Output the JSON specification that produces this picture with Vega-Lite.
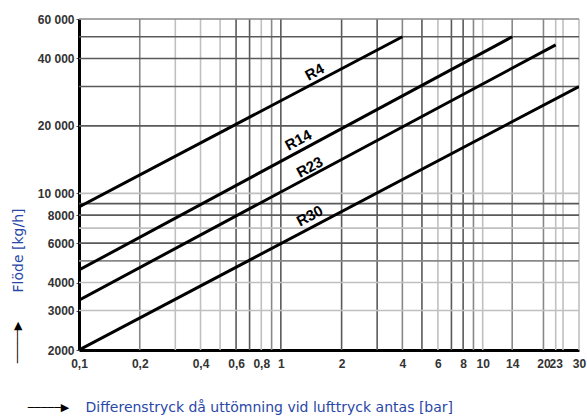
{
  "$schema": "https://vega.github.io/schema/vega-lite/v6.json",
  "width": 500,
  "height": 331,
  "autosize": "none",
  "padding": {"left": 79, "top": 19, "right": 8, "bottom": 67},
  "background": "white",
  "config": {"view": {"stroke": null}},
  "datasets": {
    "gridx": [
      {"v": 0.2, "level": "medium"}, {"v": 0.3, "level": "light"}, {"v": 0.4, "level": "light"},
      {"v": 0.5, "level": "light"}, {"v": 0.6, "level": "dark"}, {"v": 0.7, "level": "dark"},
      {"v": 0.8, "level": "light"}, {"v": 0.9, "level": "medium"}, {"v": 1, "level": "dark"},
      {"v": 2, "level": "dark"}, {"v": 3, "level": "dark"}, {"v": 4, "level": "medium"},
      {"v": 5, "level": "dark"}, {"v": 6, "level": "light"}, {"v": 7, "level": "dark"},
      {"v": 8, "level": "dark"}, {"v": 9, "level": "medium"}, {"v": 10, "level": "light"},
      {"v": 14, "level": "medium"}, {"v": 20, "level": "medium"}, {"v": 23, "level": "light"},
      {"v": 25, "level": "light"}, {"v": 30, "level": "light"}
    ],
    "gridy": [
      {"v": 3000, "level": "light"}, {"v": 4000, "level": "light"}, {"v": 5000, "level": "medium"},
      {"v": 6000, "level": "dark"}, {"v": 7000, "level": "light"}, {"v": 8000, "level": "dark"},
      {"v": 9000, "level": "dark"}, {"v": 10000, "level": "light"}, {"v": 20000, "level": "dark"},
      {"v": 30000, "level": "dark"}, {"v": 40000, "level": "dark"}, {"v": 50000, "level": "dark"},
      {"v": 60000, "level": "medium"}
    ],
    "lines": [
      {"serie": "R4", "dp": 0.1, "flow": 8700}, {"serie": "R4", "dp": 4, "flow": 50000},
      {"serie": "R14", "dp": 0.1, "flow": 4550}, {"serie": "R14", "dp": 14, "flow": 50000},
      {"serie": "R23", "dp": 0.1, "flow": 3340}, {"serie": "R23", "dp": 23, "flow": 46000},
      {"serie": "R30", "dp": 0.1, "flow": 2000}, {"serie": "R30", "dp": 30, "flow": 30000}
    ],
    "labels": [
      {"serie": "R4", "dp": 1.47, "flow": 34800},
      {"serie": "R14", "dp": 1.22, "flow": 17300},
      {"serie": "R23", "dp": 1.39, "flow": 13100},
      {"serie": "R30", "dp": 1.39, "flow": 7930}
    ]
  },
  "layer": [
    {
      "data": {"name": "gridx"},
      "mark": {"type": "rule", "strokeWidth": 1.6},
      "encoding": {
        "x": {"field": "v", "type": "quantitative", "scale": {"type": "log", "domain": [0.1, 30], "nice": false}, "axis": null},
        "color": {"field": "level", "type": "nominal", "scale": {"domain": ["dark", "medium", "light"], "range": ["#5a5a5a", "#888888", "#c0c0c0"]}, "legend": null}
      }
    },
    {
      "data": {"name": "gridy"},
      "mark": {"type": "rule", "strokeWidth": 1.6},
      "encoding": {
        "y": {"field": "v", "type": "quantitative", "scale": {"type": "log", "domain": [2000, 60000], "nice": false}, "axis": null},
        "color": {"field": "level", "type": "nominal", "legend": null}
      }
    },
    {
      "data": {"name": "lines"},
      "mark": {"type": "line", "color": "black", "strokeWidth": 3, "clip": true},
      "encoding": {
        "x": {
          "field": "dp", "type": "quantitative",
          "scale": {"type": "log", "domain": [0.1, 30], "nice": false},
          "axis": {
            "orient": "bottom",
            "values": [0.1, 0.2, 0.4, 0.6, 0.8, 1, 2, 4, 6, 8, 10, 14, 20, 23, 30],
            "labelExpr": "replace(datum.value + '', '.', ',')",
            "grid": false, "ticks": false,
            "domain": true, "domainColor": "black", "domainWidth": 3,
            "labelFont": "Liberation Sans", "labelFontWeight": "bold", "labelFontSize": 12, "labelColor": "#333333",
            "labelPadding": 8, "labelOverlap": false, "labelFlush": false, "labelBound": false,
            "title": "Differenstryck då uttömning vid lufttryck antas [bar]",
            "titleFont": "DejaVu Sans", "titleFontSize": 14, "titleFontWeight": "normal", "titleColor": "#2a47a8",
            "titleX": 6, "titleY": 57, "titleAlign": "left", "titleBaseline": "middle", "titleAnchor": null
          }
        },
        "y": {
          "field": "flow", "type": "quantitative",
          "scale": {"type": "log", "domain": [2000, 60000], "nice": false},
          "axis": {
            "orient": "left",
            "values": [2000, 3000, 4000, 6000, 8000, 10000, 20000, 40000, 60000],
            "labelExpr": "datum.value >= 10000 ? (datum.value / 1000) + ' 000' : datum.value + ''",
            "grid": false, "ticks": true, "tickSize": 3, "tickColor": "#555555",
            "domain": true, "domainColor": "black", "domainWidth": 3,
            "labelFont": "Liberation Sans", "labelFontWeight": "bold", "labelFontSize": 12, "labelColor": "#333333",
            "labelPadding": 2, "labelOverlap": false, "labelFlush": false, "labelBound": false,
            "title": "Flöde [kg/h]",
            "titleFont": "DejaVu Sans", "titleFontSize": 14, "titleFontWeight": "normal", "titleColor": "#2a47a8",
            "titleAngle": 270, "titleX": -61, "titleY": 231, "titleAlign": "center", "titleBaseline": "middle", "titleAnchor": null
          }
        },
        "detail": {"field": "serie", "type": "nominal"}
      }
    },
    {
      "data": {"name": "labels"},
      "mark": {"type": "text", "font": "Liberation Sans", "fontWeight": "bold", "fontSize": 15, "angle": 332, "color": "black", "align": "center", "baseline": "middle"},
      "encoding": {
        "x": {
          "field": "dp", "type": "quantitative",
          "scale": {"type": "log", "domain": [0.1, 30], "nice": false},
          "axis": {
            "orient": "bottom", "labels": false, "ticks": false, "domain": false, "grid": false,
            "title": "─────▶", "titleFont": "DejaVu Sans", "titleFontSize": 11, "titleFontWeight": "normal", "titleColor": "black",
            "titleX": -31, "titleY": 57, "titleAlign": "center", "titleBaseline": "middle", "titleAnchor": null
          }
        },
        "y": {
          "field": "flow", "type": "quantitative",
          "scale": {"type": "log", "domain": [2000, 60000], "nice": false},
          "axis": {
            "orient": "left", "labels": false, "ticks": false, "domain": false, "grid": false,
            "title": "─────▶", "titleFont": "DejaVu Sans", "titleFontSize": 11, "titleFontWeight": "normal", "titleColor": "black",
            "titleAngle": 270, "titleX": -62, "titleY": 323, "titleAlign": "center", "titleBaseline": "middle", "titleAnchor": null
          }
        },
        "text": {"field": "serie", "type": "nominal"}
      }
    }
  ],
  "resolve": {"axis": {"x": "independent", "y": "independent"}}
}
